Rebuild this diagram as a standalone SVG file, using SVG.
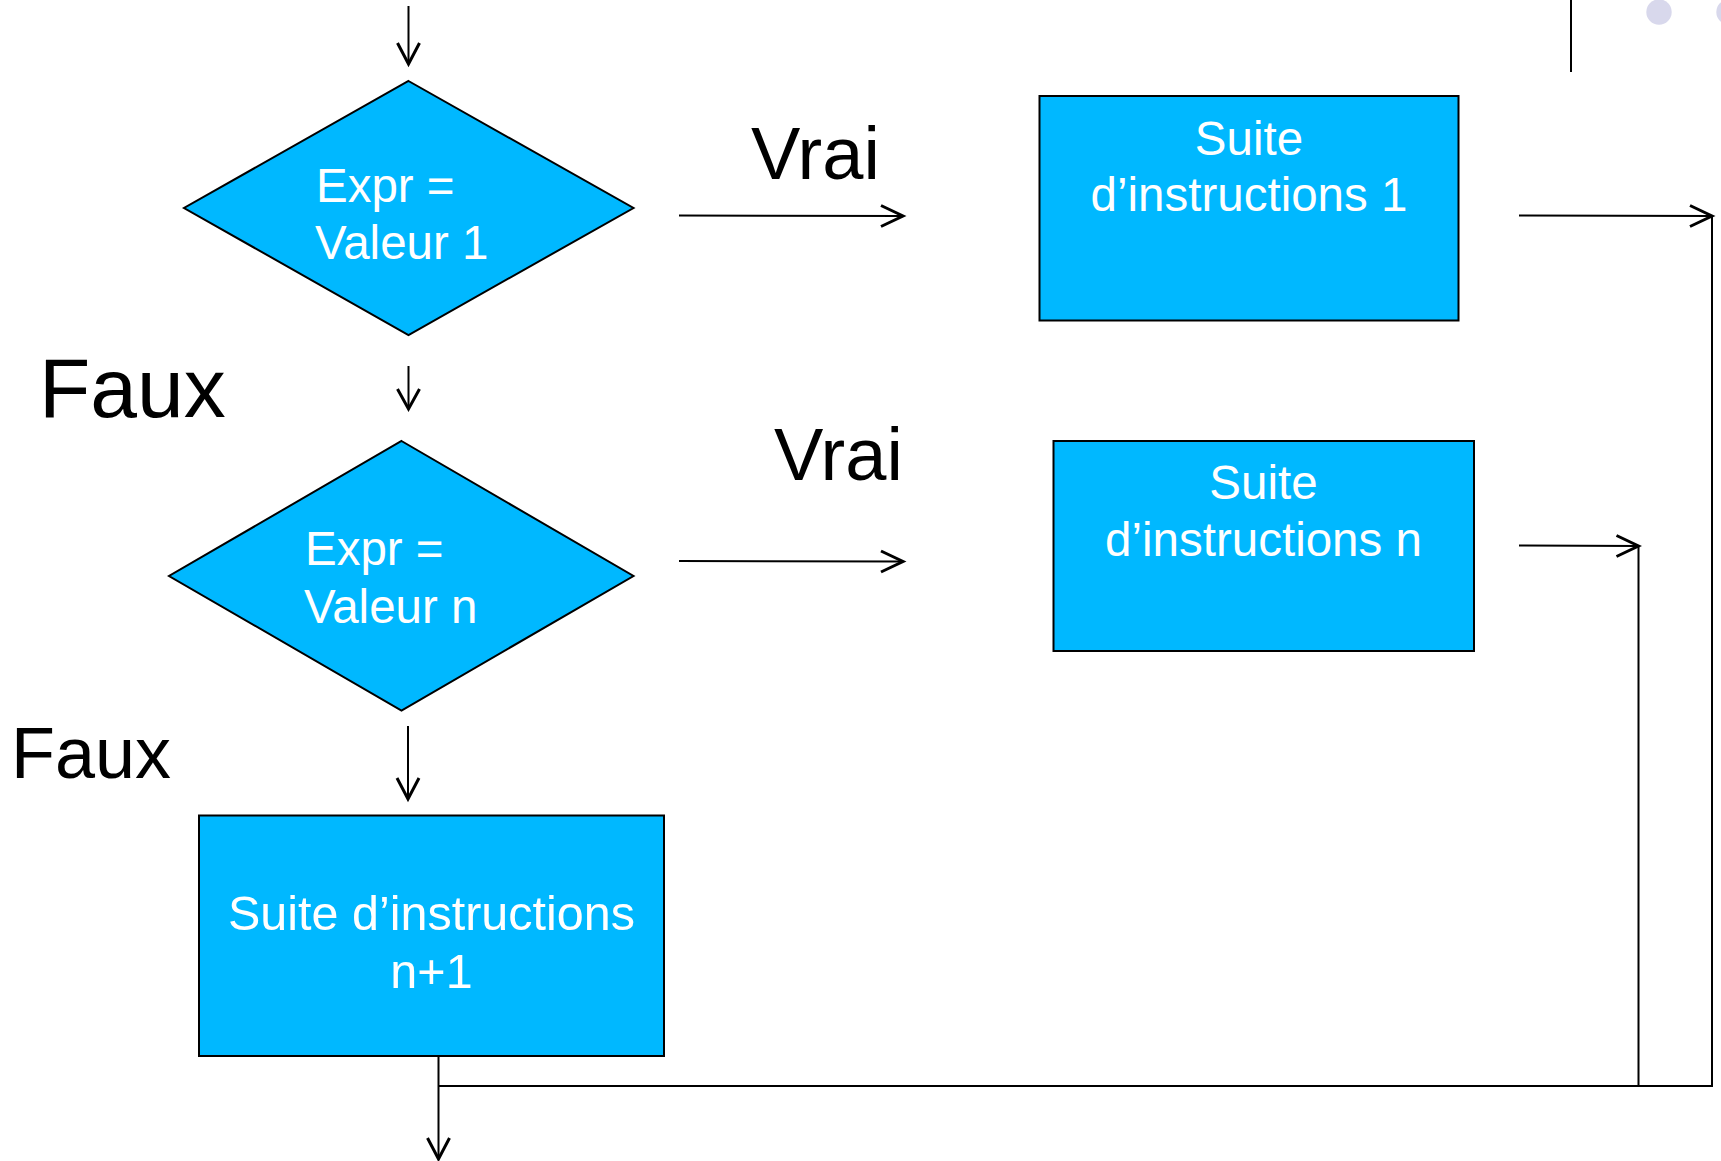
<svg xmlns="http://www.w3.org/2000/svg" width="1721" height="1161" viewBox="0 0 1721 1161">
<style>
.shape{fill:#00B8FF;stroke:#000;stroke-width:2}
.wt{fill:#fff;font-family:"Liberation Sans",Arial,sans-serif}
.dt{font-size:47.5px}
.bt{font-size:47.5px}
.lbl{fill:#000;font-family:"Liberation Sans",Arial,sans-serif}
.ln{fill:none;stroke:#000;stroke-width:2}
.ah{fill:none;stroke:#000;stroke-width:3}
</style>
<rect width="1721" height="1161" fill="#fff"/>
<g id="decor">
<line x1="1571" y1="0" x2="1571" y2="72" stroke="#000" stroke-width="2"/>
<circle cx="1659" cy="12" r="12.7" fill="#D8D8EC"/>
<circle cx="1729" cy="12" r="12.7" fill="#D8D8EC"/>
</g>
<g id="decision1">
<polygon class="shape" points="408.5,81 633.5,208 408.5,335 184,208"/>
<text class="wt dt" x="316" y="202">Expr =</text>
<text class="wt dt" x="315" y="259">Valeur 1</text>
</g>
<g id="decision2">
<polygon class="shape" points="401.5,441 633.5,576 401.5,710.5 169,576"/>
<text class="wt dt" x="305" y="565">Expr =</text>
<text class="wt dt" x="304" y="623">Valeur n</text>
</g>
<g id="box1">
<rect class="shape" x="1039.5" y="96" width="419" height="224.5"/>
<text class="wt bt" text-anchor="middle" x="1249" y="155">Suite</text>
<text class="wt bt" text-anchor="middle" x="1249" y="211">d’instructions 1</text>
</g>
<g id="box2">
<rect class="shape" x="1053.5" y="441" width="420.5" height="210"/>
<text class="wt bt" text-anchor="middle" x="1263.5" y="499">Suite</text>
<text class="wt bt" text-anchor="middle" x="1263.5" y="556">d’instructions n</text>
</g>
<g id="box3">
<rect class="shape" x="199" y="815.5" width="465" height="240.5"/>
<text class="wt" font-size="48.5" text-anchor="middle" x="431.5" y="930">Suite d’instructions</text>
<text class="wt" font-size="48.5" text-anchor="middle" x="431.5" y="988">n+1</text>
</g>
<g id="labels">
<text class="lbl" font-size="74" x="751" y="179">Vrai</text>
<text class="lbl" font-size="74" x="774" y="480">Vrai</text>
<text class="lbl" font-size="84" x="39" y="417">Faux</text>
<text class="lbl" font-size="72" x="11" y="778">Faux</text>
</g>
<g id="connectors">
<line class="ln" x1="408.5" y1="6" x2="408.5" y2="64"/>
<polyline class="ah" points="397.5,43 408.5,64 419.5,43"/>
<line class="ln" x1="408.5" y1="366" x2="408.5" y2="409"/>
<polyline class="ah" points="397.5,389 408.5,409 419.5,389"/>
<line class="ln" x1="408" y1="726" x2="408" y2="799"/>
<polyline class="ah" points="397,778 408,799 419,778"/>
<line class="ln" x1="679" y1="215.5" x2="903" y2="216"/>
<polyline class="ah" points="881,205.5 903,216 881,226.5"/>
<line class="ln" x1="679" y1="561" x2="903" y2="561.5"/>
<polyline class="ah" points="881,551 903,561.5 881,572"/>
<line class="ln" x1="1519" y1="215.5" x2="1712" y2="216"/>
<polyline class="ah" points="1690,205.5 1712,216 1690,226.5"/>
<line class="ln" x1="1519" y1="545.5" x2="1638.5" y2="546"/>
<polyline class="ah" points="1616.5,535.5 1638.5,546 1616.5,556.5"/>
<polyline class="ln" points="1712,216 1712,1086 438.5,1086"/>
<line class="ln" x1="1638.5" y1="546" x2="1638.5" y2="1086"/>
<line class="ln" x1="438.5" y1="1056" x2="438.5" y2="1159"/>
<polyline class="ah" points="427.5,1138 438.5,1159 449.5,1138"/>
</g>
</svg>
